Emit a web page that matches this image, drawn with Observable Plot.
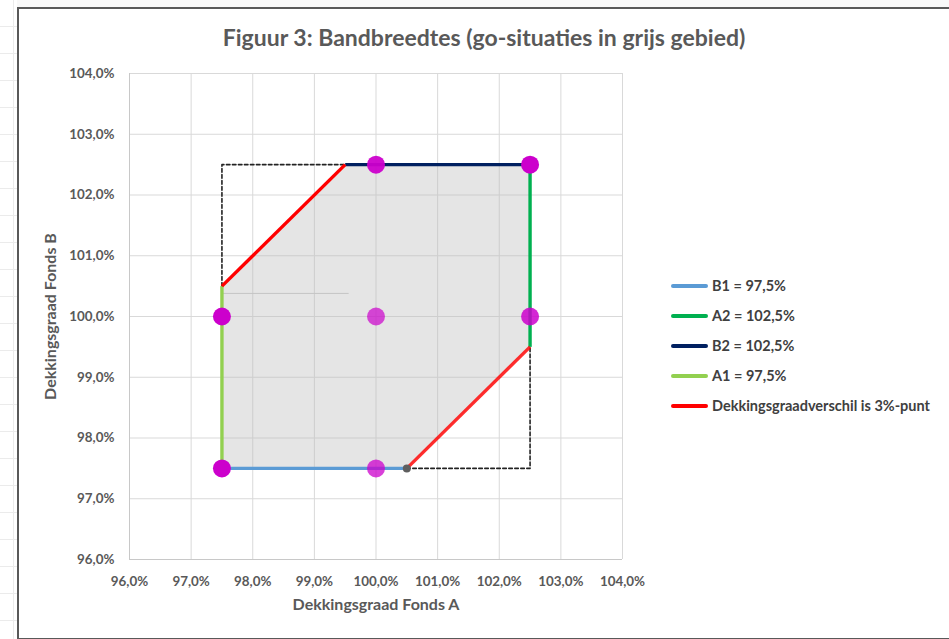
<!DOCTYPE html>
<html>
<head>
<meta charset="utf-8">
<script src="https://cdn.jsdelivr.net/npm/d3@7"></script>
<script src="https://cdn.jsdelivr.net/npm/@observablehq/plot@0.6"></script>
<style>
  html, body { margin: 0; padding: 0; width: 949px; height: 639px; overflow: hidden; background: #fff; font-family: Lato, "Open Sans", sans-serif; }
  #sheetTop { position: absolute; left: 0; top: 0; width: 949px; height: 7px; background: #f8f8f8; }
  #sheetLeft { position: absolute; left: 0; top: 0; width: 17px; height: 639px;
    background: repeating-linear-gradient(to bottom, #fff 0px, #fff 26px, #ebebeb 26px, #ebebeb 27px); }
  #sheetLeft::after { content: ""; position: absolute; left: 13px; top: 0; width: 1px; height: 639px; background: #ebebeb; }
  #chart { position: absolute; left: 17px; top: 7px; width: 940px; height: 629px; border: 2px solid #595959; border-right: none; background: #fff; }
  #title { position: absolute; left: 19px; top: 22px; width: 930px; text-align: center; font-weight: bold; font-size: 23px; color: #595959; line-height: 30px; }
  #plot { position: absolute; left: 19px; top: 59px; }
  #legend { position: absolute; left: 671px; top: 276px; }
  .row { position: relative; height: 30px; }
  .swatch { position: absolute; left: 0; top: 8px; width: 37px; height: 3.5px; border-radius: 2px; }
  .lab { position: absolute; left: 41px; top: 0; font-weight: bold; font-size: 14.5px; color: #404040; line-height: 20px; white-space: nowrap; }
</style>
</head>
<body>
<div id="sheetTop"></div>
<div id="sheetLeft"></div>
<div id="chart"></div>
<div id="title">Figuur 3: Bandbreedtes (go-situaties in grijs gebied)</div>
<div id="plot"></div>
<div id="legend"></div>
<script>
// Axis ticks (percent)
const xTicks = [96, 97, 98, 99, 100, 101, 102, 103, 104];
const yTicks = [96, 97, 98, 99, 100, 101, 102, 103, 104];
const xLabel = "Dekkingsgraad Fonds A";
const yLabel = "Dekkingsgraad Fonds B";

// Grey "go" area (Fonds A, Fonds B)
const areaA = [97.5, 100.5, 102.5, 102.5, 99.5, 97.5];
const areaB = [97.5, 97.5, 99.5, 102.5, 102.5, 100.5];

// Dashed box corners
const dashUpperA = [97.5, 97.5, 99.5];
const dashUpperB = [100.5, 102.5, 102.5];
const dashLowerA = [100.5, 102.5, 102.5];
const dashLowerB = [97.5, 97.5, 99.5];

// Series lines
const seriesNames = ["B1 = 97,5%", "A2 = 102,5%", "B2 = 102,5%", "A1 = 97,5%", "Dekkingsgraadverschil is 3%-punt"];
const seriesColors = ["#5b9bd5", "#00b050", "#002060", "#92d050", "#ff0000"];
const b1A = [97.5, 100.5], b1B = [97.5, 97.5];
const a2A = [102.5, 102.5], a2B = [99.5, 102.5];
const b2A = [99.5, 102.5], b2B = [102.5, 102.5];
const a1A = [97.5, 97.5], a1B = [97.5, 100.5];
const redUpperA = [97.5, 99.5], redUpperB = [100.5, 102.5];
const redLowerA = [100.5, 102.5], redLowerB = [97.5, 99.5];

// Faint stray line in the picture
const strayA = [97.5, 99.55], strayB = [100.38, 100.38];

// Scenario points
const pointA = [97.5, 100, 97.5, 100, 102.5, 100, 102.5];
const pointB = [97.5, 97.5, 100, 100, 100, 102.5, 102.5];
const pointOpacity = [1, 0.75, 1, 0.7, 0.85, 0.95, 1];

// Small grey marker
const dotA = [100.5], dotB = [97.5];

const pts = (A, B) => A.map((a, i) => ({a, b: B[i]}));
const fmt = d => d.toFixed(1).replace(".", ",") + "%";

const seriesData = [
  [pts(b1A, b1B)], [pts(a2A, a2B)], [pts(b2A, b2B)], [pts(a1A, a1B)],
  [pts(redUpperA, redUpperB), pts(redLowerA, redLowerB)]
];

const marks = [
  Plot.gridX(xTicks, {stroke: "#d9d9d9", strokeOpacity: 1, strokeWidth: 1}),
  Plot.gridY(yTicks, {stroke: "#d9d9d9", strokeOpacity: 1, strokeWidth: 1}),
  Plot.ruleX([xTicks[0]], {stroke: "#c8c8c8"}),
  Plot.ruleY([yTicks[0]], {stroke: "#c8c8c8"}),
  Plot.line(pts(areaA, areaB), {x: "a", y: "b", fill: "#bfbfbf", fillOpacity: 0.4, stroke: "none"}),
  Plot.line(pts(strayA, strayB), {x: "a", y: "b", stroke: "#c4c4c4", strokeWidth: 1}),
  Plot.line(pts(dashUpperA, dashUpperB), {x: "a", y: "b", stroke: "#222", strokeWidth: 1.6, strokeDasharray: "3.5,2.5"}),
  Plot.line(pts(dashLowerA, dashLowerB), {x: "a", y: "b", stroke: "#222", strokeWidth: 1.6, strokeDasharray: "3.5,2.5"})
];
seriesData.forEach((segs, i) => {
  segs.forEach((seg, j) => {
    marks.push(Plot.line(seg, {x: "a", y: "b", stroke: seriesColors[i], strokeWidth: 3.4,
      strokeOpacity: (i === 4 && j === 1) ? 0.82 : 1, strokeLinecap: "butt"}));
  });
});
marks.push(Plot.dot(pts(dotA, dotB), {x: "a", y: "b", r: 4, fill: "#5f5f5f"}));
marks.push(Plot.dot(pointA.map((a, i) => ({a, b: pointB[i], o: pointOpacity[i]})),
  {x: "a", y: "b", r: 9, fill: "#cc00cc", fillOpacity: "o", stroke: "none"}));
marks.push(Plot.text([xLabel], {frameAnchor: "bottom", dy: 50, text: d => d, fontSize: 16, fontWeight: "bold", fill: "#595959"}));
marks.push(Plot.text([yLabel], {frameAnchor: "left", textAnchor: "middle", dx: -79, rotate: -90, text: d => d, fontSize: 16, fontWeight: "bold", fill: "#595959"}));

const chart = Plot.plot({
  width: 930,
  height: 577,
  marginLeft: 110,
  marginRight: 327,
  marginTop: 14,
  marginBottom: 77,
  style: {fontFamily: "Lato, 'Open Sans', sans-serif", fontSize: "13.4px", fontWeight: "bold", color: "#595959", background: "transparent", overflow: "visible"},
  x: {domain: [96, 104], ticks: xTicks, tickFormat: fmt, tickSize: 0, tickPadding: 17, label: null},
  y: {domain: [96, 104], ticks: yTicks, tickFormat: fmt, tickSize: 0, tickPadding: 15, label: null},
  marks
});
document.getElementById("plot").appendChild(chart);

const legend = document.getElementById("legend");
seriesNames.forEach((name, i) => {
  const row = document.createElement("div");
  row.className = "row";
  const sw = document.createElement("div");
  sw.className = "swatch";
  sw.style.background = seriesColors[i];
  const lab = document.createElement("div");
  lab.className = "lab";
  lab.textContent = name;
  row.appendChild(sw); row.appendChild(lab);
  legend.appendChild(row);
});
</script>
</body>
</html>
